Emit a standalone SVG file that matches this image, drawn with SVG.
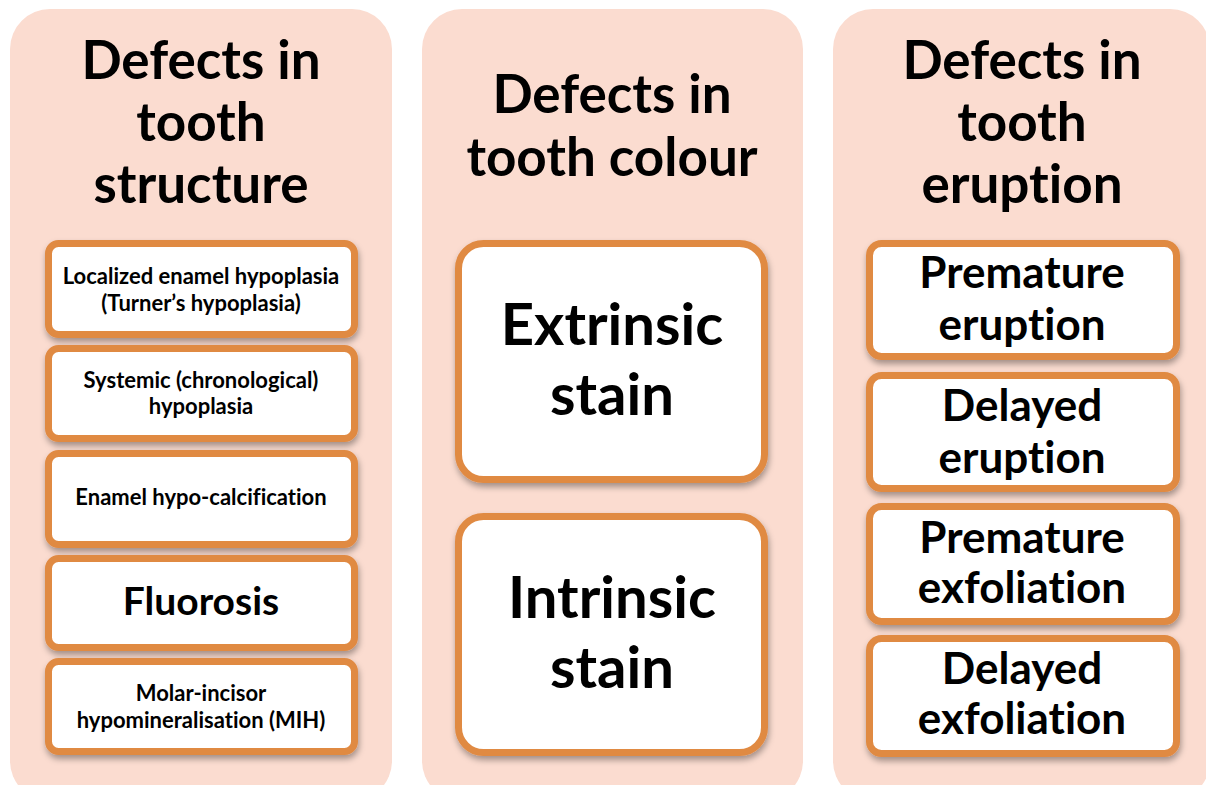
<svg xmlns="http://www.w3.org/2000/svg" width="1206" height="785" viewBox="0 0 1206 785">
<style>
.panel{fill:#FBDCD0}
.box{fill:#FFFFFF;stroke:#E08A43;stroke-width:7;filter:url(#sh)}
text{font-family:Lato,"Open Sans","Liberation Sans",sans-serif;font-weight:700;fill:#000;text-anchor:middle;font-variant-ligatures:none;font-feature-settings:"liga" 0,"dlig" 0}
.title{font-size:53px}
.s{font-size:22px}
.m{font-size:39px}
.l{font-size:58px}
.r{font-size:44px}
</style>
<defs>
<filter id="sh" x="-10%" y="-10%" width="125%" height="130%">
<feDropShadow dx="1" dy="4" stdDeviation="3" flood-color="#000" flood-opacity="0.35"/>
</filter>
</defs>
<rect width="1206" height="785" fill="#FFFFFF"/>
<g id="panel-structure">
<rect class="panel" x="10" y="9" width="382" height="792" rx="40"/>
<text class="title" x="201" y="79">Defects in</text>
<text class="title" x="201" y="141">tooth</text>
<text class="title" x="201" y="203">structure</text>
</g>
<g id="panel-colour">
<rect class="panel" x="422" y="9" width="381" height="792" rx="40"/>
<text class="title" x="612" y="113">Defects in</text>
<text class="title" x="612" y="176">tooth colour</text>
</g>
<g id="panel-eruption">
<rect class="panel" x="833" y="9" width="377" height="792" rx="40"/>
<text class="title" x="1022" y="79">Defects in</text>
<text class="title" x="1022" y="141">tooth</text>
<text class="title" x="1022" y="203">eruption</text>
</g>
<g id="node-localized">
<rect class="box" x="48.5" y="243.5" width="306" height="91" rx="10"/>
<text class="s" x="201" y="284">Localized enamel hypoplasia</text>
<text class="s" x="201" y="311">(Turner’s hypoplasia)</text>
</g>
<g id="node-systemic">
<rect class="box" x="48.5" y="348.5" width="306" height="90" rx="10"/>
<text class="s" x="201" y="388">Systemic (chronological)</text>
<text class="s" x="201" y="414">hypoplasia</text>
</g>
<g id="node-hypocalcification">
<rect class="box" x="48.5" y="453.5" width="306" height="91" rx="10"/>
<text class="s" x="201" y="505">Enamel hypo-calcification</text>
</g>
<g id="node-fluorosis">
<rect class="box" x="48.5" y="558.5" width="306" height="89" rx="10"/>
<text class="m" x="201" y="615">Fluorosis</text>
</g>
<g id="node-mih">
<rect class="box" x="48.5" y="661.5" width="306" height="90" rx="10"/>
<text class="s" x="201" y="701">Molar-incisor</text>
<text class="s" x="201" y="728">hypomineralisation (MIH)</text>
</g>
<g id="node-extrinsic">
<rect class="box" x="458.5" y="243.5" width="306" height="236" rx="25"/>
<text class="l" x="612" y="345">Extrinsic</text>
<text class="l" x="612" y="415">stain</text>
</g>
<g id="node-intrinsic">
<rect class="box" x="458.5" y="516.5" width="306" height="236" rx="25"/>
<text class="l" x="612" y="618">Intrinsic</text>
<text class="l" x="612" y="688">stain</text>
</g>
<g id="node-premature-eruption">
<rect class="box" x="869.5" y="243.5" width="307" height="113" rx="12"/>
<text class="r" x="1022" y="288">Premature</text>
<text class="r" x="1022" y="340">eruption</text>
</g>
<g id="node-delayed-eruption">
<rect class="box" x="869.5" y="375.5" width="307" height="113" rx="12"/>
<text class="r" x="1022" y="421">Delayed</text>
<text class="r" x="1022" y="473">eruption</text>
</g>
<g id="node-premature-exfoliation">
<rect class="box" x="869.5" y="506.5" width="307" height="115" rx="12"/>
<text class="r" x="1022" y="553">Premature</text>
<text class="r" x="1022" y="603">exfoliation</text>
</g>
<g id="node-delayed-exfoliation">
<rect class="box" x="869.5" y="638.5" width="307" height="115" rx="12"/>
<text class="r" x="1022" y="684">Delayed</text>
<text class="r" x="1022" y="734">exfoliation</text>
</g>
<g id="connectors"></g>
</svg>
